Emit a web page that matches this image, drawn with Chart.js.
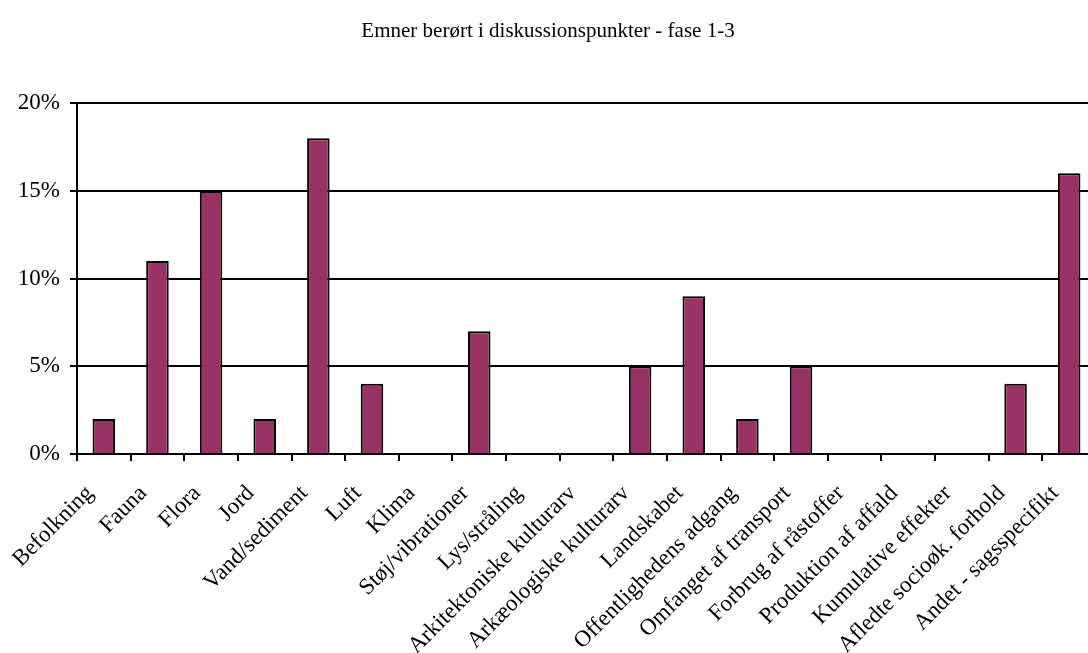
<!DOCTYPE html>
<html>
<head>
<meta charset="utf-8">
<script src="https://cdn.jsdelivr.net/npm/chart.js@4/dist/chart.umd.min.js"></script>
<style>
  html, body { margin: 0; padding: 0; background: #fff; overflow: hidden; }
  #wrap { width: 1096px; height: 653px; }
</style>
</head>
<body>
<div id="wrap"><canvas id="barChart" width="1096" height="653"></canvas></div>
<script>
var categories = ['Befolkning', 'Fauna', 'Flora', 'Jord', 'Vand/sediment', 'Luft', 'Klima',
    'Støj/vibrationer', 'Lys/stråling', 'Arkitektoniske kulturarv', 'Arkæologiske kulturarv',
    'Landskabet', 'Offentlighedens adgang', 'Omfanget af transport', 'Forbrug af råstoffer',
    'Produktion af affald', 'Kumulative effekter', 'Afledte socioøk. forhold', 'Andet - sagsspecifikt'];
var shares = [2, 11, 15, 2, 18, 4, 0, 7, 0, 0, 5, 9, 2, 5, 0, 0, 0, 4, 16];
var yTicks = [0, 5, 10, 15, 20];
var chartTitle = 'Emner berørt i diskussionspunkter - fase 1-3';

var serif = '"Liberation Serif", "Times New Roman", serif';

var ctx = document.getElementById('barChart').getContext('2d');
var barChart = new Chart(ctx, {
    type: 'bar',
    data: {
        labels: categories,
        datasets: [{
            data: shares,
            backgroundColor: '#993366',
            borderColor: '#000',
            borderWidth: 2,
            borderSkipped: 'bottom',
            categoryPercentage: 1,
            barPercentage: 0.42
        }]
    },
    options: {
        responsive: false,
        animation: false,
        layout: { padding: 0 },
        plugins: {
            legend: { display: false },
            tooltip: { enabled: false },
            title: {
                display: true,
                text: chartTitle,
                color: '#000',
                font: { family: serif, size: 21, weight: 'normal' },
                padding: { top: 19, bottom: 59 }
            }
        },
        scales: {
            x: {
                grid: {
                    offset: true,
                    drawOnChartArea: false,
                    drawTicks: true,
                    tickLength: 7,
                    color: '#000',
                    lineWidth: 2
                },
                border: { color: '#000', width: 2 },
                ticks: {
                    color: '#000',
                    font: { family: serif, size: 23 },
                    minRotation: 45,
                    maxRotation: 45,
                    autoSkip: false,
                    padding: 19,
                    labelOffset: -14
                },
                afterFit: function (scale) {
                    scale.height = 199;
                    scale.paddingRight = 0;
                    scale.paddingLeft = 0;
                }
            },
            y: {
                min: 0,
                max: 20,
                afterBuildTicks: function (scale) {
                    scale.ticks = yTicks.map(function (v) { return { value: v }; });
                },
                grid: {
                    color: '#000',
                    lineWidth: 2,
                    tickLength: 7
                },
                border: { color: '#000', width: 2 },
                ticks: {
                    color: '#000',
                    font: { family: serif, size: 23 },
                    padding: 10,
                    callback: function (v) { return v + '%'; }
                },
                afterFit: function (scale) { scale.width = 77; }
            }
        }
    }
});
</script>
</body>
</html>
